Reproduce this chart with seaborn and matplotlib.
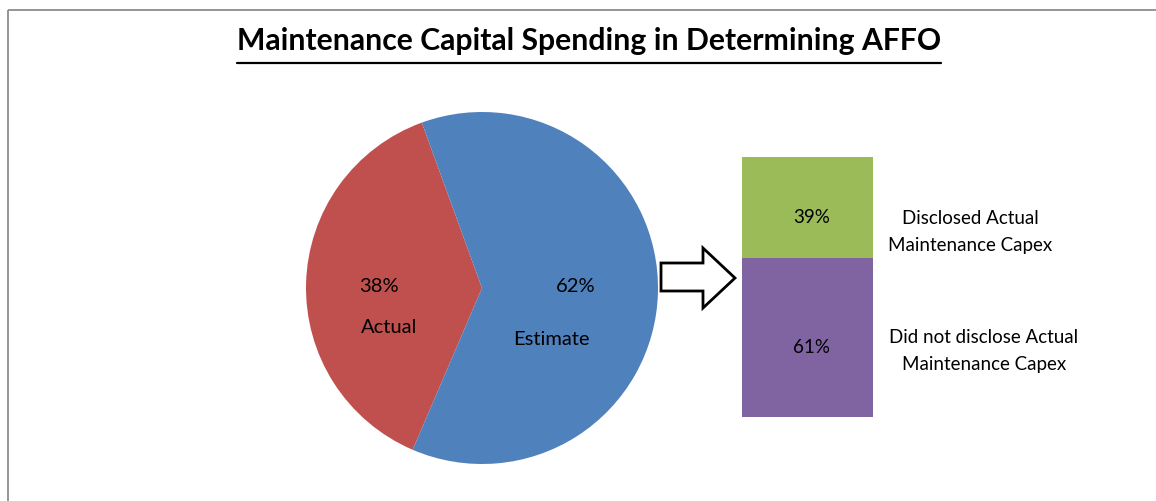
import matplotlib
matplotlib.use("Agg")
import matplotlib.pyplot as plt
import seaborn as sns
from matplotlib.patches import Polygon, Rectangle
from matplotlib.lines import Line2D

title = "Maintenance Capital Spending in Determining AFFO"
pie_labels = ["Actual", "Estimate"]
pie_values = [38, 62]
pie_colors = ["#C0504D", "#4F81BD"]
bar_labels = ["Disclosed Actual\nMaintenance Capex", "Did not disclose Actual\nMaintenance Capex"]
bar_values = [39, 61]
bar_colors = ["#9BBB59", "#8064A2"]

sns.set_theme(style="white")
plt.rcParams['font.family'] = ['Lato', 'DejaVu Sans']
plt.rcParams['text.color'] = 'black'

W, H = 1156, 501
fig = plt.figure(figsize=(W / 100, H / 100), dpi=100)
fig.patch.set_facecolor("white")


def px_axes(x0, y0, x1, y1):
    return fig.add_axes([x0 / W, 1 - y1 / H, (x1 - x0) / W, (y1 - y0) / H])


# Pie
cx, cy, r = 482, 288, 176
pax = px_axes(cx - r, cy - r, cx + r, cy + r)
pax.pie(pie_values, colors=pie_colors, startangle=110, counterclock=True,
        radius=1, wedgeprops=dict(linewidth=0))
pax.set_xlim(-1, 1)
pax.set_ylim(-1, 1)
pax.set_aspect("equal")
pax.axis("off")

# Stacked bar (green on top of purple)
bax = px_axes(742, 157, 873, 417)
total = bar_values[0] + bar_values[1]
sns.barplot(x=[0], y=[total], color=bar_colors[0], width=1, saturation=1,
            linewidth=0, ax=bax)
sns.barplot(x=[0], y=[bar_values[1]], color=bar_colors[1], width=1, saturation=1,
            linewidth=0, ax=bax)
bax.set_xlim(-0.5, 0.5)
bax.set_ylim(0, total)
bax.axis("off")

# Overlay in pixel coordinates
ov = fig.add_axes([0, 0, 1, 1])
ov.set_xlim(0, W)
ov.set_ylim(H, 0)
ov.axis("off")

# Frame
ov.add_patch(Rectangle((8, 10), W + 40, H + 40, fill=False, edgecolor="#8c8c8c",
                       linewidth=1.3, clip_on=False))

# Arrow
arrow = [(661, 263), (703, 263), (703, 248), (735, 278), (703, 308),
         (703, 291), (661, 291)]
ov.add_patch(Polygon(arrow, closed=True, facecolor="white", edgecolor="black",
                     linewidth=2, joinstyle="miter"))

# Title
t = ov.text(589, 50, title, ha="center", va="baseline", fontsize=21.7,
            fontweight="bold", color="black")
fig.canvas.draw()
bb = t.get_window_extent()
ov.add_line(Line2D([bb.x0 / W, bb.x1 / W], [1 - 62.5 / H, 1 - 62.5 / H],
                   transform=fig.transFigure, color="black", linewidth=1.6))

# Pie labels
ov.text(379, 292, f"{pie_values[0]}%", ha="center", va="baseline", fontsize=14.5)
ov.text(389, 333, pie_labels[0], ha="center", va="baseline", fontsize=14.5)
ov.text(576, 292, f"{pie_values[1]}%", ha="center", va="baseline", fontsize=14.5)
ov.text(551, 345, pie_labels[1], ha="center", va="baseline", fontsize=14.5)

# Bar labels
ov.text(812, 223, f"{bar_values[0]}%", ha="center", va="baseline", fontsize=13.5)
ov.text(812, 353, f"{bar_values[1]}%", ha="center", va="baseline", fontsize=13.5)
for (x, y0, y1), lab in zip([(970, 224, 251), (984, 343, 370)], bar_labels):
    l1, l2 = lab.split("\n")
    ov.text(x, y0, l1, ha="center", va="baseline", fontsize=13.5)
    ov.text(x, y1, l2, ha="center", va="baseline", fontsize=13.5)

fig.savefig("out.png", dpi=100, facecolor="white")
